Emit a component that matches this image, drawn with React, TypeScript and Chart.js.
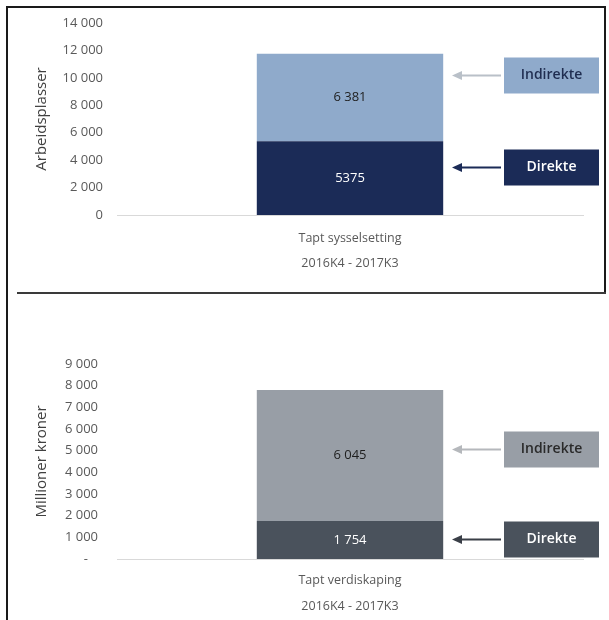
import { useEffect, useRef } from "react";
import { Chart, registerables } from "chart.js";

Chart.register(...registerables);

const FONT = "'Open Sans', 'Liberation Sans', sans-serif";

// ---- Top panel: employment ----
const employmentCategories = [["Tapt sysselsetting", "2016K4 - 2017K3"]];
const employmentDirect = [5375];
const employmentIndirect = [6381];
const employmentDirectText = ["5375"];
const employmentIndirectText = ["6 381"];
const employmentTicks = ["0", "2 000", "4 000", "6 000", "8 000", "10 000", "12 000", "14 000"];
const employmentColors = ["#1b2b57", "#8faacb"];
// y-values the callout arrows point at (Direkte, Indirekte)
const employmentCalloutAt = [3500, 10200];

// ---- Bottom panel: value creation ----
const valueCategories = [["Tapt verdiskaping", "2016K4 - 2017K3"]];
const valueDirect = [1754];
const valueIndirect = [6045];
const valueDirectText = ["1 754"];
const valueIndirectText = ["6 045"];
const valueTicks = ["-   ", "1 000", "2 000", "3 000", "4 000", "5 000", "6 000", "7 000", "8 000", "9 000"];
const valueColors = ["#4a525c", "#989ea6"];
const valueCalloutAt = [920, 5100];

const seriesNames = ["Direkte", "Indirekte"];

const overlayPlugin = {
  id: "overlay",
  afterDatasetsDraw(chart: any, _args: any, opts: any) {
    const ctx = chart.ctx;
    chart.data.datasets.forEach((_ds: any, di: number) => {
      const meta = chart.getDatasetMeta(di);
      meta.data.forEach((el: any, i: number) => {
        const { x, y, base } = el.getProps(["x", "y", "base"], true);
        ctx.save();
        ctx.font = `13px ${FONT}`;
        ctx.fillStyle = opts.valueColors[di];
        ctx.textAlign = "center";
        ctx.textBaseline = "middle";
        ctx.fillText(opts.valueTexts[di][i], x, (y + base) / 2);
        ctx.restore();
      });
    });
    const yScale = chart.scales.y;
    const boxW = 95;
    const boxH = 36;
    const boxLeft = chart.width - 105;
    opts.calloutAt.forEach((v: number, i: number) => {
      const cy = Math.round(yScale.getPixelForValue(v)) + 0.5;
      ctx.save();
      // arrow
      ctx.strokeStyle = opts.arrowColors[i];
      ctx.fillStyle = opts.arrowColors[i];
      ctx.lineWidth = 2;
      ctx.beginPath();
      ctx.moveTo(boxLeft - 3, cy);
      ctx.lineTo(boxLeft - 44, cy);
      ctx.stroke();
      ctx.beginPath();
      ctx.moveTo(boxLeft - 52, cy);
      ctx.lineTo(boxLeft - 42, cy - 4.5);
      ctx.lineTo(boxLeft - 42, cy + 4.5);
      ctx.closePath();
      ctx.fill();
      // box
      ctx.fillStyle = opts.boxColors[i];
      ctx.fillRect(boxLeft, cy - boxH / 2, boxW, boxH);
      ctx.fillStyle = opts.boxTextColors[i];
      ctx.font = `600 14px ${FONT}`;
      ctx.textAlign = "center";
      ctx.textBaseline = "middle";
      ctx.fillText(opts.names[i], boxLeft + boxW / 2, cy);
      ctx.restore();
    });
  },
};

function makeConfig(p: any) {
  return {
    type: "bar" as const,
    data: {
      labels: p.categories,
      datasets: [
        {
          label: seriesNames[0],
          data: p.direct,
          backgroundColor: p.colors[0],
          barPercentage: 0.4,
          categoryPercentage: 1,
        },
        {
          label: seriesNames[1],
          data: p.indirect,
          backgroundColor: p.colors[1],
          barPercentage: 0.4,
          categoryPercentage: 1,
        },
      ],
    },
    options: {
      responsive: false,
      animation: false as const,
      layout: { padding: { top: p.padTop, right: 26, left: 0, bottom: 0 } },
      plugins: {
        legend: { display: false },
        tooltip: { enabled: false },
        overlay: {
          valueTexts: [p.directText, p.indirectText],
          valueColors: ["#ffffff", "#1e1e1e"],
          calloutAt: p.calloutAt,
          arrowColors: p.arrowColors,
          boxColors: p.colors,
          boxTextColors: p.boxTextColors,
          names: seriesNames,
        },
      },
      scales: {
        x: {
          stacked: true,
          grid: { display: false, drawTicks: false },
          border: { display: true, color: "#d9d9d9", width: 1 },
          ticks: {
            padding: p.xPad,
            color: "#595959",
            font: { family: FONT, size: 12.5, lineHeight: p.xLineHeight },
          },
          afterFit: (s: any) => {
            s.height = p.xHeight;
          },
        },
        y: {
          stacked: true,
          min: 0,
          max: p.max,
          ticks: {
            stepSize: p.step,
            padding: p.yPad,
            color: "#595959",
            font: { family: FONT, size: 13 },
            callback: (_v: any, i: number) => p.ticks[i],
          },
          grid: { display: false, drawTicks: false },
          border: { display: false },
          title: {
            display: true,
            text: p.title,
            color: "#404040",
            font: { family: FONT, size: 15 },
            padding: { top: 33, bottom: 0 },
          },
          afterFit: (s: any) => {
            s.width = 117;
          },
        },
      },
    },
    plugins: [overlayPlugin],
  };
}

function Panel({ top, height, params }: { top: number; height: number; params: any }) {
  const ref = useRef<HTMLCanvasElement>(null);
  useEffect(() => {
    const chart = new Chart(ref.current as HTMLCanvasElement, makeConfig(params) as any);
    return () => chart.destroy();
  }, []);
  return (
    <canvas
      ref={ref}
      width={609}
      height={height}
      style={{ position: "absolute", left: 0, top, width: 609, height }}
    />
  );
}

const employmentParams = {
  categories: employmentCategories,
  direct: employmentDirect,
  indirect: employmentIndirect,
  directText: employmentDirectText,
  indirectText: employmentIndirectText,
  ticks: employmentTicks,
  colors: employmentColors,
  calloutAt: employmentCalloutAt,
  arrowColors: ["#1b2b57", "#b9c0c8"],
  boxTextColors: ["#ffffff", "#1f2d50"],
  max: 14000,
  step: 2000,
  title: "Arbeidsplasser",
  padTop: 23,
  xHeight: 78,
  xPad: 11,
  xLineHeight: "25px",
  yPad: 14,
};

const valueParams = {
  categories: valueCategories,
  direct: valueDirect,
  indirect: valueIndirect,
  directText: valueDirectText,
  indirectText: valueIndirectText,
  ticks: valueTicks,
  colors: valueColors,
  calloutAt: valueCalloutAt,
  arrowColors: ["#3a3f47", "#b5b8bc"],
  boxTextColors: ["#ffffff", "#2a2a2a"],
  max: 9000,
  step: 1000,
  title: "Millioner kroner",
  padTop: 71,
  xHeight: 61,
  xPad: 8,
  xLineHeight: "26px",
  yPad: 19,
};

export default function App() {
  const line = (l: number, t: number, w: number, h: number, c: string) => (
    <div style={{ position: "absolute", left: l, top: t, width: w, height: h, background: c, zIndex: 2 }} />
  );
  return (
    <div style={{ position: "absolute", left: 0, top: 0, width: 609, height: 620, background: "#ffffff", overflow: "hidden" }}>
      <Panel top={0} height={293} params={employmentParams} />
      <Panel top={293} height={327} params={valueParams} />
      {line(7, 6, 599, 2, "#1a1a1a")}
      {line(6, 6, 2, 614, "#1a1a1a")}
      {line(604, 6, 2, 288, "#1a1a1a")}
      {line(17, 292, 589, 2, "#3a3a3a")}
    </div>
  );
}
